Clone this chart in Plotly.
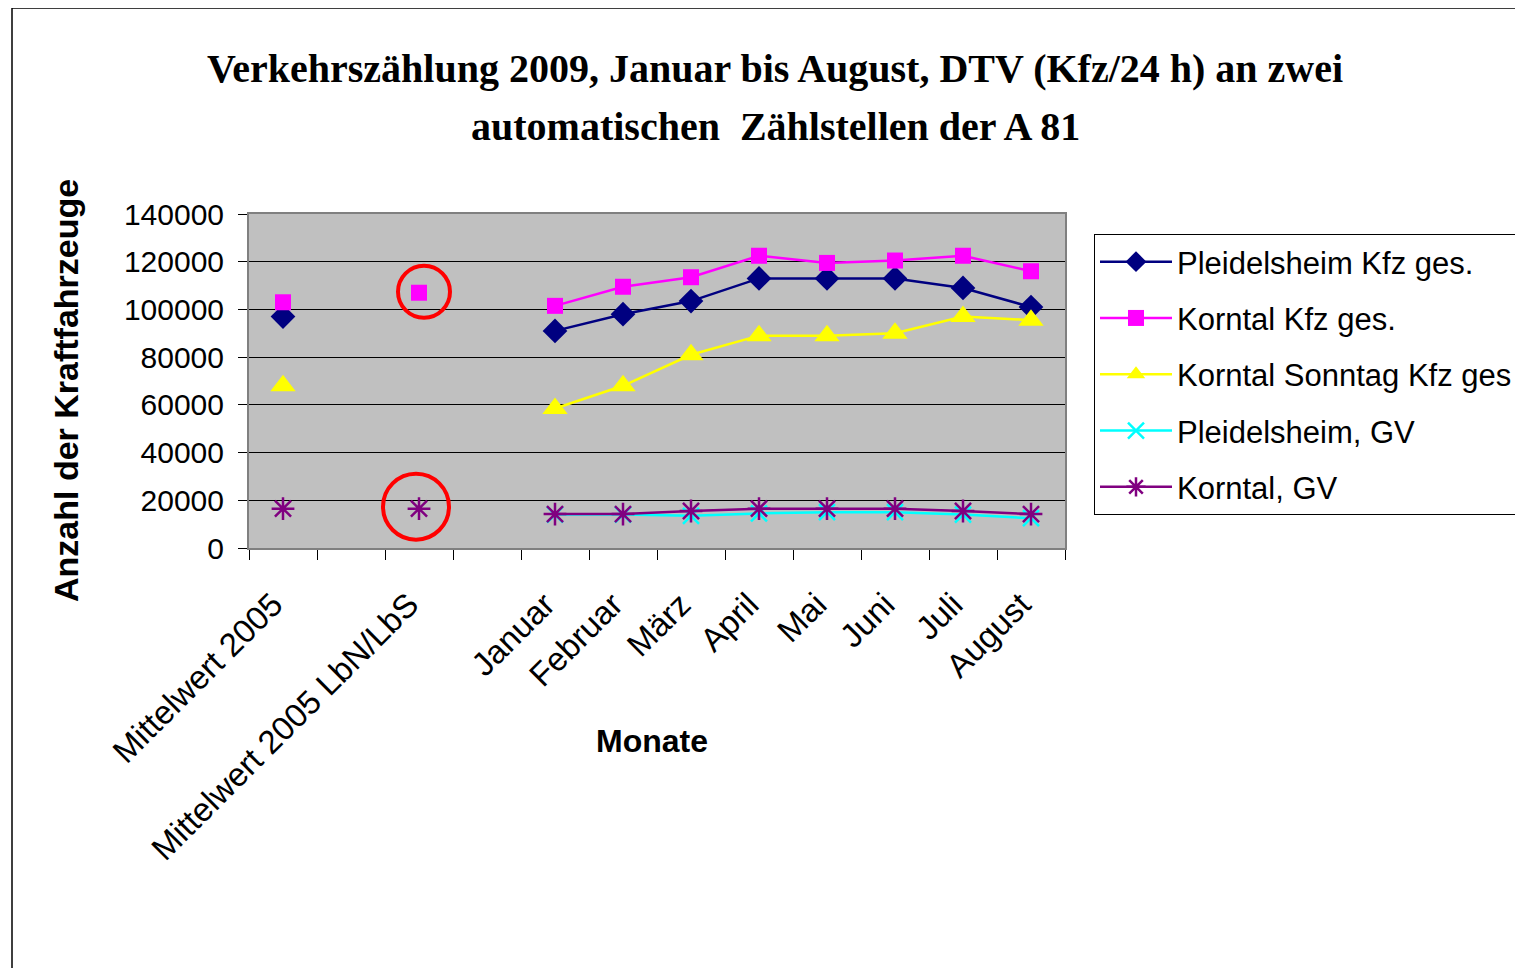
import plotly.graph_objects as go

categories = ["Mittelwert 2005", " ", "Mittelwert 2005 LbN/LbS", "  ",
              "Januar", "Februar", "März", "April", "Mai", "Juni", "Juli", "August"]

pleidelsheim_kfz = [97000, None, None, None, 91000, 98000, 103500, 113000, 113000, 113000, 109000, 101000]
korntal_kfz = [103000, None, 107000, None, 101500, 109500, 113500, 122500, 119500, 120500, 122500, 116000]
korntal_sonntag = [68000, None, None, None, 58500, 68000, 81000, 89000, 89000, 90000, 97000, 95500]
pleidelsheim_gv = [None, None, None, None, 14000, 14000, 13500, 14500, 15000, 15000, 14000, 12500]
korntal_gv = [16500, None, 16500, None, 14200, 14200, 15500, 16500, 16500, 16500, 15500, 14200]

series_names = ["Pleidelsheim Kfz ges.", "Korntal Kfz ges.", "Korntal Sonntag Kfz ges",
                "Pleidelsheim, GV", "Korntal, GV"]

y_ticks = [0, 20000, 40000, 60000, 80000, 100000, 120000, 140000]

title_lines = ["Verkehrszählung 2009, Januar bis August, DTV (Kfz/24 h) an zwei",
               "automatischen  Zählstellen der A 81"]

OFF = 8  # page body margin
W, H = 1523 - OFF, 968 - OFF
# target page-pixel positions of the plot area
L, R, T, B = 249, 1065, 214, 548
Lf, Rf, Tf, Bf = L - OFF, R - OFF, T - OFF, B - OFF


def px(xp):
    return (xp - L) / (R - L)


def py(yp):
    return (B - yp) / (B - T)


fig = go.Figure()

styles = [
    dict(color="#000080", symbol="diamond", size=19, lw=2.5),
    dict(color="#FF00FF", symbol="square", size=16, lw=2.5),
    dict(color="#FFFF00", symbol="triangle-up", size=22, lw=2.5),
    dict(color="#00FFFF", symbol="x-thin-open", size=16, lw=2.5),
    dict(color="#800080", symbol="asterisk-open", size=19, lw=2.5),
]
data = [pleidelsheim_kfz, korntal_kfz, korntal_sonntag, pleidelsheim_gv, korntal_gv]

for i, (name, vals, st) in enumerate(zip(series_names, data, styles)):
    marker = dict(symbol=st["symbol"], size=st["size"], color=st["color"])
    if "open" in st["symbol"]:
        marker["line"] = dict(color=st["color"], width=2.5)
    fig.add_trace(go.Scatter(
        x=categories, y=vals, name=name, mode="lines+markers",
        line=dict(color=st["color"], width=st["lw"]),
        marker=marker, connectgaps=False, legendgroup=f"g{i}",
    ))

fig.update_layout(
    width=W, height=H,
    margin=dict(l=Lf, r=W - Rf, t=Tf, b=H - Bf, autoexpand=False),
    paper_bgcolor="white",
    plot_bgcolor="#C0C0C0",
    font=dict(family="Liberation Sans, Arial, sans-serif", color="black", size=30),
    showlegend=True,
    legend=dict(
        x=px(1094), xanchor="left",
        y=py(234), yanchor="top",
        bordercolor="black", borderwidth=1, bgcolor="white",
        font=dict(size=31, family="Liberation Sans, Arial, sans-serif"),
        tracegroupgap=13, traceorder="grouped",
        itemwidth=72,
    ),
)

fig.update_xaxes(
    type="category", categoryorder="array", categoryarray=categories,
    range=[-0.5, len(categories) - 0.5],
    tickson="boundaries", ticks="outside", ticklen=10, tickcolor="black",
    tickangle=-45, tickfont=dict(size=33),
    ticklabelstandoff=22, ticklabelshift=-10,
    showline=True, linecolor="#808080", linewidth=2, mirror=True,
    showgrid=False, zeroline=False,
)
fig.update_yaxes(
    range=[0, 140000], tickvals=y_ticks, ticktext=[str(v) for v in y_ticks],
    ticks="outside", ticklen=9, tickcolor="black",
    tickfont=dict(size=30), ticklabelstandoff=8,
    showline=True, linecolor="#808080", linewidth=2, mirror=True,
    showgrid=True, gridcolor="black", gridwidth=1, zeroline=False,
)

# Title (two lines)
for line, yc in zip(title_lines, [68, 127]):
    fig.add_annotation(
        text=f"<b>{line}</b>", xref="paper", yref="paper",
        x=px(775), y=py(yc), xanchor="center", yanchor="middle",
        showarrow=False, align="center",
        font=dict(family="Liberation Serif, Times New Roman, serif", size=40, color="black"),
    )
# Axis titles
fig.add_annotation(
    text="<b>Monate</b>", xref="paper", yref="paper",
    x=px(652), y=py(741), xanchor="center", yanchor="middle",
    showarrow=False, font=dict(size=32),
)
fig.add_annotation(
    text="<b>Anzahl der Kraftfahrzeuge</b>", xref="paper", yref="paper",
    x=px(66), y=py(391), xanchor="center", yanchor="middle",
    showarrow=False, textangle=-90, font=dict(size=34),
)

# Red highlight circles around the LbN/LbS points
fig.add_shape(type="circle", xref="x", yref="y", xsizemode="pixel", ysizemode="pixel",
              xanchor=categories[2], yanchor=korntal_kfz[2],
              x0=-21, x1=31, y0=-25, y1=27, line=dict(color="#FF0000", width=4))
fig.add_shape(type="circle", xref="x", yref="y", xsizemode="pixel", ysizemode="pixel",
              xanchor=categories[2], yanchor=korntal_gv[2],
              x0=-36, x1=30, y0=-31, y1=35, line=dict(color="#FF0000", width=4))

# Outer chart-area border
fig.add_shape(type="rect", xref="paper", yref="paper",
              x0=px(12), x1=px(1560),
              y0=py(1000), y1=py(8),
              line=dict(color="black", width=1.5), layer="below")

fig.write_html("out.html")
